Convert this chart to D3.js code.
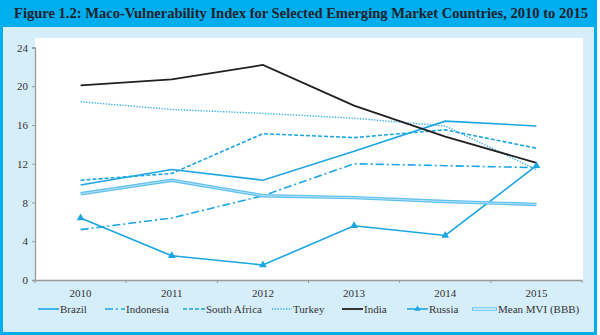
<!DOCTYPE html>
<html>
<head>
<meta charset="utf-8">
<script src="https://cdn.jsdelivr.net/npm/d3@7"></script>
<style>
  body { margin: 0; background: #fff; }
  svg { display: block; }
  text { font-family: "Liberation Serif", "Times New Roman", serif; }
</style>
</head>
<body>
<script>
// Macro-vulnerability index by country, 2010-2015
const years = ["2010", "2011", "2012", "2013", "2014", "2015"];
const yTicks = [0, 4, 8, 12, 16, 20, 24];

const brazil = [9.8, 11.4, 10.3, 13.3, 16.4, 15.9];
const indonesia = [5.2, 6.4, 8.7, 12.0, 11.8, 11.6];
const southAfrica = [10.3, 11.0, 15.1, 14.7, 15.5, 13.6];
const turkey = [18.4, 17.6, 17.2, 16.7, 15.9, 11.4];
const india = [20.1, 20.7, 22.2, 18.0, 14.8, 12.1];
const russia = [6.4, 2.5, 1.55, 5.6, 4.6, 11.8];
const meanMvi = [8.9, 10.3, 8.7, 8.5, 8.1, 7.8];

const blue = "#1ba6e3";
const series = [
  { name: "Brazil", values: brazil, color: blue, dash: null, width: 1.6 },
  { name: "Indonesia", values: indonesia, color: blue, dash: "8,3,2,3", width: 1.6 },
  { name: "South Africa", values: southAfrica, color: blue, dash: "4,2", width: 1.6 },
  { name: "Turkey", values: turkey, color: "#30aee6", dash: "1.3,1.5", width: 1.4 },
  { name: "India", values: india, color: "#231f20", dash: null, width: 1.8 },
  { name: "Russia", values: russia, color: blue, dash: null, width: 1.6, marker: true },
  { name: "Mean MVI (BBB)", values: meanMvi, color: "#5cc0ec", dash: null, width: 3.4, double: true }
];

const W = 600, H = 335;
const svg = d3.select("body").append("svg").attr("width", W).attr("height", H);

// frame
svg.append("rect").attr("x", 0).attr("y", 0).attr("width", 597).attr("height", 335).attr("fill", "#00aeef");
svg.append("rect").attr("x", 3).attr("y", 27).attr("width", 591).attr("height", 305).attr("fill", "#d5eefa");
svg.append("text")
  .attr("x", 14).attr("y", 18)
  .attr("textLength", 574).attr("lengthAdjust", "spacingAndGlyphs")
  .attr("font-size", 14.5).attr("font-weight", "bold").attr("fill", "#1a232b")
  .text("Figure 1.2:  Maco-Vulnerability Index for Selected Emerging Market Countries, 2010 to 2015");

const plotL = 35, plotR = 583, plotT = 38, plotB = 280;
svg.append("rect").attr("x", plotL).attr("y", plotT).attr("width", plotR - plotL).attr("height", plotB - plotT).attr("fill", "#fff");

const x = d3.scaleBand().domain(years).range([plotL, plotR - 1]);
const y = d3.scaleLinear().domain([0, 24]).range([plotB, 47.5]);

// axes
const yAxis = svg.append("g").attr("transform", `translate(${plotL},0)`)
  .call(d3.axisLeft(y).tickValues(yTicks).tickSize(3).tickPadding(4));
const xAxis = svg.append("g").attr("transform", `translate(0,${plotB})`)
  .call(d3.axisBottom(x).tickSize(0).tickPadding(9));
xAxis.selectAll(".tick").append("line")
  .attr("x1", x.bandwidth() / 2).attr("x2", x.bandwidth() / 2)
  .attr("y1", 0).attr("y2", 3).attr("stroke", "#999");
xAxis.append("line").attr("x1", 0).attr("x2", 0).attr("y1", 0).attr("y2", 3).attr("stroke", "#999")
  .attr("transform", `translate(${plotL},0)`);
[yAxis, xAxis].forEach(a => {
  a.select(".domain").attr("stroke", "#999").attr("stroke-width", 1.3);
  a.selectAll(".tick line").attr("stroke", "#999");
  a.selectAll("text").attr("font-family", "Liberation Serif, serif").attr("font-size", 11).attr("fill", "#333");
});

const cx = d => x(d) + x.bandwidth() / 2;
const line = d3.line().x((v, i) => cx(years[i])).y(v => y(v));
const tri = d3.symbol().type(d3.symbolTriangle).size(26);

series.forEach(s => {
  svg.append("path")
    .attr("d", line(s.values))
    .attr("fill", "none")
    .attr("stroke", s.color)
    .attr("stroke-width", s.width)
    .attr("stroke-dasharray", s.dash);
  if (s.double) {
    svg.append("path").attr("d", line(s.values)).attr("fill", "none")
      .attr("stroke", "#b8e3f6").attr("stroke-width", 1);
  }
  if (s.marker) {
    svg.selectAll(null).data(s.values).enter().append("path")
      .attr("d", tri)
      .attr("transform", (v, i) => `translate(${cx(years[i])},${y(v)})`)
      .attr("fill", s.color);
  }
});

// legend
const legendX = [38, 105, 183, 272, 342, 407, 472];
const legendW = [21, 20, 22, 20, 21, 21, 25];
const ly = 309;
series.forEach((s, i) => {
  const g = svg.append("g").attr("transform", `translate(${legendX[i]},${ly})`);
  g.append("line").attr("x1", 0).attr("x2", legendW[i]).attr("y1", 0).attr("y2", 0)
    .attr("stroke", s.color).attr("stroke-width", s.double ? 3.4 : s.width)
    .attr("stroke-dasharray", s.dash);
  if (s.double) {
    g.append("line").attr("x1", 1).attr("x2", legendW[i] - 1).attr("y1", 0).attr("y2", 0)
      .attr("stroke", "#fff").attr("stroke-width", 1.2);
  }
  if (s.marker) {
    g.append("path").attr("d", d3.symbol().type(d3.symbolTriangle).size(16))
      .attr("transform", `translate(${legendW[i] / 2},0)`).attr("fill", s.color);
  }
  g.append("text").attr("x", legendW[i] + 1).attr("y", 4)
    .attr("font-size", 11).attr("fill", "#333").text(s.name);
});
</script>
</body>
</html>
